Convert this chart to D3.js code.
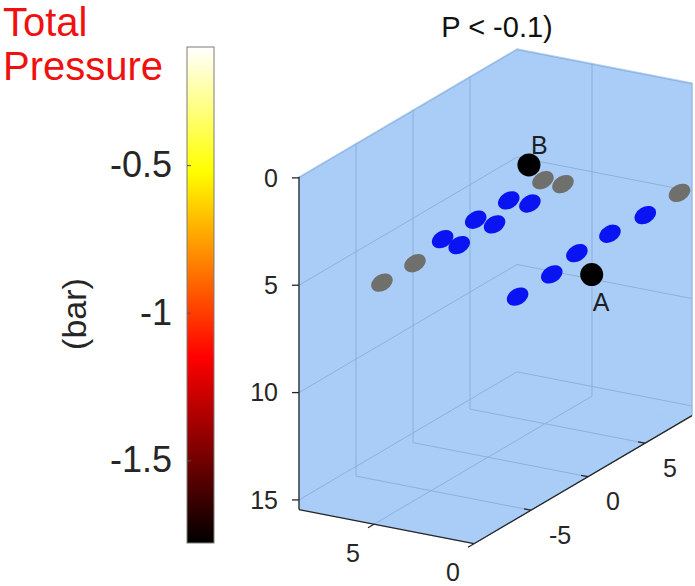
<!DOCTYPE html>
<html>
<head>
<meta charset="utf-8">
<script src="https://cdn.jsdelivr.net/npm/d3@7"></script>
<style>
  body { margin: 0; background: #fff; }
  svg { display: block; font-family: "Liberation Sans", Arial, Helvetica, sans-serif; }
</style>
</head>
<body>
<div id="container"></div>
<script>
const widthSVG = 695,
    heightSVG = 586;

// limits of the 3d box (z is reversed: 0 on top)
const xLim = [0, 8.75];
const yLim = [-10, 9.12];
const zLim = [-0.05, 15.45];
const xTicks = [0, 5];
const yTicks = [-5, 0, 5];
const zTicks = [0, 5, 10, 15];

// contacts inside the threshold (blue) and outside (gray)
const blueX = [6.3, 5.3, 6.3, 5.3, 6.3, 5.3, 0.5, 0.5, 0.5, 0.5, 0.5];
const blueY = [4.1, 4.2, 1.2, 1.1, -1.7, -2.0, -5.3, -2.3, -0.1, 2.8, 5.9];
const blueZ = [5, 5, 5, 5, 5, 5, 5.5, 5.4, 5.1, 5.1, 5.2];
const grayX = [6.3, 5.3, 5.8, 5.8, 0.5];
const grayY = [7.1, 7.1, -5.0, -7.9, 8.9];
const grayZ = [5, 5, 5, 5, 5.1];

// reference points
const refNames = ["B", "A"];
const refX = [7.8, 0.5];
const refY = [8.5, 1.2];
const refZ = [5.0, 6.5];

// colorbar
const cLim = [-1.78, -0.1];
const cTicks = [-1.5, -1, -0.5];
const cTickLabels = ["-1.5", "-1", "-0.5"];

const fillColor = '#a9cdf7',
    gridColor = '#8badd6',
    axisColor = '#262626';

// projection of the box: corner (xmin, ymin, zmin) + one screen vector per axis
const corner = [474, 210.9],
    xEdge = [-175, -34.1],
    yEdge = [218, -128.1],
    zEdge = [0, 332.8];

const fx = d3.scaleLinear().domain(xLim).range([0, 1]);
const fy = d3.scaleLinear().domain(yLim).range([0, 1]);
const fz = d3.scaleLinear().domain(zLim).range([0, 1]);

function project(x, y, z) {
    const a = fx(x), b = fy(y), c = fz(z);
    return [
        corner[0] + a * xEdge[0] + b * yEdge[0] + c * zEdge[0],
        corner[1] + a * xEdge[1] + b * yEdge[1] + c * zEdge[1]
    ];
}

const line = d3.line();

const svg = d3.select('#container')
    .append('svg')
    .attr('width', widthSVG)
    .attr('height', heightSVG);

const [x0, x1] = xLim, [y0, y1] = yLim, [z0, z1] = zLim;

// back walls + floor
const planes = [
    [[x1, y0, z0], [x1, y1, z0], [x1, y1, z1], [x1, y0, z1]],
    [[x1, y1, z0], [x0, y1, z0], [x0, y1, z1], [x1, y1, z1]],
    [[x1, y0, z1], [x0, y0, z1], [x0, y1, z1], [x1, y1, z1]]
];

svg.append('g')
    .selectAll('path')
    .data(planes)
    .join('path')
    .attr('d', d => line(d.map(p => project(...p))) + 'Z')
    .attr('fill', fillColor)
    .attr('stroke', fillColor)
    .attr('stroke-width', 0.8);

// grid lines on the three planes
const grid = [];
yTicks.forEach(t => {
    grid.push([[x1, t, z0], [x1, t, z1]]);
    grid.push([[x1, t, z1], [x0, t, z1]]);
});
zTicks.forEach(t => {
    grid.push([[x1, y0, t], [x1, y1, t]]);
    grid.push([[x1, y1, t], [x0, y1, t]]);
});
xTicks.forEach(t => {
    grid.push([[t, y1, z0], [t, y1, z1]]);
    grid.push([[t, y0, z1], [t, y1, z1]]);
});

svg.append('g')
    .selectAll('path')
    .data(grid)
    .join('path')
    .attr('d', d => line(d.map(p => project(...p))))
    .attr('fill', 'none')
    .attr('stroke', gridColor)
    .attr('stroke-width', 0.9);

// axis lines
const axes = svg.append('g').attr('stroke', axisColor).attr('stroke-width', 1.3).attr('fill', 'none');
axes.append('path').attr('d', line([project(x1, y0, z0), project(x1, y0, z1)]));
axes.append('path').attr('d', line([project(x0, y0, z1), project(x1, y0, z1)]));
axes.append('path').attr('d', line([project(x0, y0, z1), project(x0, y1, z1)]));

const tickText = svg.append('g')
    .attr('fill', axisColor)
    .attr('font-size', 25);

// z ticks (left edge)
zTicks.forEach(t => {
    const p = project(x1, y0, t);
    axes.append('path').attr('d', line([p, [p[0] - 7, p[1]]]));
    tickText.append('text')
        .attr('x', p[0] - 21)
        .attr('y', p[1])
        .attr('dy', '0.35em')
        .attr('text-anchor', 'end')
        .text(t);
});

// x ticks (front bottom left edge)
xTicks.forEach(t => {
    const p = project(t, y0, z1);
    axes.append('path').attr('d', line([p, [p[0] - 6, p[1] + 3.5]]));
    tickText.append('text')
        .attr('x', p[0] - 21)
        .attr('y', p[1] + 29)
        .attr('dy', '0.35em')
        .attr('text-anchor', 'middle')
        .text(t);
});

// y ticks (front bottom right edge)
yTicks.forEach(t => {
    const p = project(x0, t, z1);
    axes.append('path').attr('d', line([p, [p[0] - 7, p[1] - 1.4]]));
    tickText.append('text')
        .attr('x', p[0] + 18)
        .attr('y', p[1] + 25)
        .attr('dy', '0.35em')
        .attr('text-anchor', 'start')
        .text(t);
});

// contacts, far ones (large x) drawn first
const angle = Math.atan2(yEdge[1], yEdge[0]) * 180 / Math.PI;

function blobs(xs, ys, zs, color) {
    const pts = xs.map((x, i) => ({ x: x, y: ys[i], z: zs[i] }))
        .sort((a, b) => b.x - a.x);
    svg.append('g')
        .selectAll('ellipse')
        .data(pts)
        .join('ellipse')
        .attr('transform', d => {
            const p = project(d.x, d.y, d.z);
            return `translate(${p[0]},${p[1]}) rotate(${angle})`;
        })
        .attr('rx', 11.5)
        .attr('ry', 8.2)
        .attr('fill', color);
}

blobs(grayX, grayY, grayZ, '#6f6f6c');
blobs(blueX, blueY, blueZ, '#0a14f2');

const refs = refNames.map((n, i) => ({ name: n, p: project(refX[i], refY[i], refZ[i]) }));

svg.append('g')
    .selectAll('circle')
    .data(refs)
    .join('circle')
    .attr('cx', d => d.p[0])
    .attr('cy', d => d.p[1])
    .attr('r', 11.5)
    .attr('fill', '#000');

// text labels: B above right, A below
const labelOffset = { B: [2, -11], A: [1, 36] };
svg.append('g')
    .selectAll('text')
    .data(refs)
    .join('text')
    .attr('x', d => d.p[0] + labelOffset[d.name][0])
    .attr('y', d => d.p[1] + labelOffset[d.name][1])
    .attr('font-size', 25)
    .attr('fill', '#1e1e28')
    .text(d => d.name);

// title
svg.append('text')
    .attr('x', 497)
    .attr('y', 37)
    .attr('text-anchor', 'middle')
    .attr('font-size', 29)
    .attr('fill', '#111')
    .text('P < -0.1)');

// colorbar with MATLAB "hot" map
const hot = t => {
    const r = Math.max(0, Math.min(1, t / 0.375));
    const g = Math.max(0, Math.min(1, (t - 0.375) / 0.375));
    const b = Math.max(0, Math.min(1, (t - 0.75) / 0.25));
    return d3.rgb(r * 255, g * 255, b * 255);
};

const cbLeft = 187, cbWidth = 27, cbTop = 47, cbBottom = 543;
const cScale = d3.scaleLinear().domain(cLim).range([cbBottom, cbTop]);

const grad = svg.append('defs')
    .append('linearGradient')
    .attr('id', 'hotGrad')
    .attr('x1', 0).attr('y1', 1)
    .attr('x2', 0).attr('y2', 0);

grad.selectAll('stop')
    .data(d3.range(0, 65).map(i => i / 64))
    .join('stop')
    .attr('offset', d => d)
    .attr('stop-color', d => hot(d));

svg.append('rect')
    .attr('x', cbLeft)
    .attr('y', cbTop)
    .attr('width', cbWidth)
    .attr('height', cbBottom - cbTop)
    .attr('fill', 'url(#hotGrad)')
    .attr('stroke', '#7d7d7d')
    .attr('stroke-width', 1);

const cAxis = svg.append('g')
    .attr('transform', `translate(${cbLeft},0)`)
    .call(d3.axisLeft(cScale)
        .tickValues(cTicks)
        .tickFormat((d, i) => cTickLabels[i])
        .tickSize(-4)
        .tickPadding(15));

cAxis.select('.domain').remove();
cAxis.selectAll('line').attr('stroke', '#555');
cAxis.selectAll('text')
    .attr('font-size', 36)
    .attr('font-family', '"Liberation Sans", Arial, sans-serif')
    .attr('fill', axisColor);

svg.append('text')
    .attr('transform', 'translate(86,314) rotate(-90)')
    .attr('text-anchor', 'middle')
    .attr('font-size', 34)
    .attr('fill', axisColor)
    .text('(bar)');

// red heading
const heading = svg.append('text')
    .attr('font-size', 40)
    .attr('fill', '#f01010');
heading.append('tspan').attr('x', 3).attr('y', 36).text('Total');
heading.append('tspan').attr('x', 3).attr('y', 80).text('Pressure');
</script>
</body>
</html>
